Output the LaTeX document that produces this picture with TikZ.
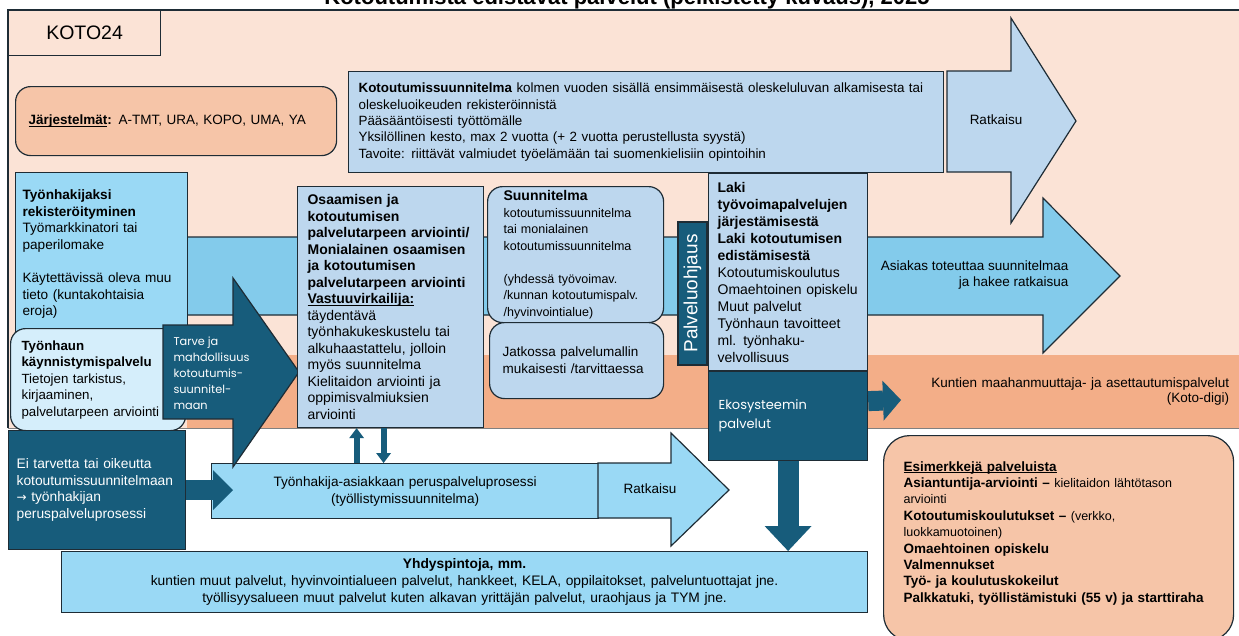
\documentclass[tikz,border=0pt]{standalone}
\usepackage{fontspec}
\setmainfont{Liberation Sans}
\newfontfamily\roundfont{Poppins}
\newfontfamily\arrowfont{DejaVu Sans}
\usepackage{tikz}
\usetikzlibrary{arrows.meta}
\definecolor{peach}{HTML}{FBE3D6}
\definecolor{salmon}{HTML}{F6C5A8}
\definecolor{orangeband}{HTML}{F3AE88}
\definecolor{paleblue}{HTML}{BDD7EE}
\definecolor{skyblue}{HTML}{9AD9F5}
\definecolor{bandblue}{HTML}{83CBEB}
\definecolor{iceblue}{HTML}{D5EEFB}
\definecolor{deepblue}{HTML}{175C7B}
\definecolor{edge}{HTML}{1E2C35}
\newcommand{\fsbig}{\fontsize{14}{16.6}\selectfont}
\newcommand{\fsmid}{\fontsize{13.5}{16.5}\selectfont}
\newcommand{\ulword}[1]{\underline{\smash{#1}}}
\tikzstyle{box} = [rectangle, draw=edge, line width=1.2pt, anchor=north west, align=left, inner ysep=0pt]
\tikzstyle{roundbox} = [box, rounded corners=15pt]
\tikzstyle{darkbox} = [box, fill=deepblue, text=white]
\tikzstyle{blockarrow} = [draw=edge, line width=1.2pt]
\tikzstyle{fatarrow} = [draw=deepblue, line width=20pt, -{Triangle[width=40pt,length=20pt,line width=0pt]}]
\tikzstyle{slimarrow} = [draw=deepblue, line width=6pt, -{Triangle[width=15pt,length=10pt,line width=0pt]}]

\begin{document}
\begin{tikzpicture}[x=1pt, y=-1pt]
\useasboundingbox (0,0) rectangle (1239,635);
\fill[white] (0,0) rectangle (1239,635);
\node (title) [anchor=base, font=\fontsize{22}{26}\selectfont\bfseries] at (627,4) {Kotoutumista edistävät palvelut (pelkistetty kuvaus), 2025};

\fill[peach] (8,10) rectangle (1250,428);
\draw[edge, line width=1.5pt] (8,428) -- (8,10) -- (1250,10);
\draw[gray, line width=1pt] (8,428) -- (1250,428);

\node (kuntien) [anchor=north west, fill=orangeband, minimum width=1053pt, minimum height=73pt, text width=1031pt, inner xsep=11pt, inner ysep=0pt, align=right, font=\fontsize{13.5}{15}\selectfont] at (187,355) {Kuntien maahanmuuttaja- ja asettautumispalvelut\\ (Koto-digi)};

\draw[blockarrow, fill=bandblue] (180,237) -- (1043,237) -- (1043,198) -- (1120,276) -- (1043,353) -- (1043,315) -- (180,315) -- cycle;
\node (asiakas) [anchor=east, align=right, font=\fontsize{13.5}{16.5}\selectfont] at (1072,275) {Asiakas toteuttaa suunnitelmaa\\ ja hakee ratkaisua};

\node (koto24) [box, fill=peach, minimum width=152pt, minimum height=45pt, align=center, font=\fontsize{19.5}{22}\selectfont] at (8,10) {KOTO24};
\node (jarj) [roundbox, fill=salmon, minimum width=321pt, minimum height=69pt, text width=295pt, inner xsep=13pt, font=\fsmid] at (15,86) {\ulword{\textbf{Järjestelmät}}\textbf{:} A-TMT, URA, KOPO, UMA, YA};

\node (kotosuun) [box, fill=paleblue, minimum width=595pt, minimum height=101pt, text width=575pt, inner xsep=10pt, font=\fontsize{13.4}{16.3}\selectfont] at (348,71) {\textbf{Kotoutumissuunnitelma} kolmen vuoden sisällä ensimmäisestä oleskeluluvan alkamisesta tai\\ oleskeluoikeuden rekisteröinnistä\\ Pääsääntöisesti työttömälle\\ Yksilöllinen kesto, max 2 vuotta (+ 2 vuotta perustellusta syystä)\\ Tavoite: riittävät valmiudet työelämään tai suomenkielisiin opintoihin};
\draw[blockarrow, fill=paleblue] (947,71) -- (1011,71) -- (1011,18) -- (1076,121) -- (1011,223) -- (1011,172) -- (947,172) -- cycle;
\node (ratkaisutop) [font=\fsmid] at (996,120) {Ratkaisu};

\node (rekister) [box, fill=skyblue, minimum width=172pt, minimum height=163pt, text width=158pt, inner xsep=7pt, font=\fontsize{13.6}{16.6}\selectfont] at (15,172) {\textbf{Työnhakijaksi}\\ \textbf{rekisteröityminen}\\ Työmarkkinatori tai\\ paperilomake\\[16.6pt] Käytettävissä oleva muu\\ tieto (kuntakohtaisia\\ eroja)};
\node (kaynnistys) [roundbox, fill=iceblue, minimum width=175pt, minimum height=102pt, text width=153pt, inner xsep=11pt, font=\fontsize{13.3}{16.5}\selectfont] at (10,328) {\textbf{Työnhaun}\\ \textbf{käynnistymispalvelu}\\ Tietojen tarkistus,\\ kirjaaminen,\\ palvelutarpeen arviointi};
\node (eitarve) [darkbox, minimum width=177pt, minimum height=119pt, text width=161pt, inner xsep=8pt, font=\fontsize{13.8}{16.5}\selectfont] at (8,430) {Ei tarvetta tai oikeutta\\ kotoutumissuunnitelmaan\\ {\arrowfont\fontsize{12}{16.5}\selectfont →} työnhakijan\\ peruspalveluprosessi};

\node (tyoasiakas) [box, fill=skyblue, minimum width=387pt, minimum height=55pt, text width=367pt, inner xsep=10pt, align=center, font=\fontsize{13.6}{17}\selectfont] at (211,463) {Työnhakija-asiakkaan peruspalveluprosessi\\ (työllistymissuunnitelma)};
\draw[blockarrow, fill=skyblue] (598,463) -- (671,463) -- (671,433) -- (729,490) -- (671,546) -- (671,518) -- (598,518) -- cycle;
\node (ratkaisulow) [font=\fsmid] at (650,489) {Ratkaisu};

\draw[blockarrow, fill=deepblue] (163,325) -- (233,325) -- (233,278) -- (299,372) -- (233,467) -- (233,419) -- (163,419) -- cycle;
\node (tarve) [anchor=west, align=left, text=white, font=\roundfont\fontsize{11.3}{16}\selectfont] at (170,373) {Tarve ja\\ mahdollisuus\\ kotoutumis-\\ suunnitel-\\ maan};

\node (osaaminen) [box, fill=paleblue, minimum width=186pt, minimum height=241pt, text width=166pt, inner xsep=10pt, font=\fontsize{14}{16.5}\selectfont] at (297,186) {\textbf{Osaamisen ja}\\ \textbf{kotoutumisen}\\ \textbf{palvelutarpeen arviointi/}\\ \textbf{Monialainen osaamisen}\\ \textbf{ja kotoutumisen}\\ \textbf{palvelutarpeen arviointi}\\ \ulword{\textbf{Vastuuvirkailija:}}\\ täydentävä\\ työnhakukeskustelu tai\\ alkuhaastattelu, jolloin\\ myös suunnitelma\\ Kielitaidon arviointi ja\\ oppimisvalmiuksien\\ arviointi};
\node (suunnitelma) [roundbox, fill=paleblue, minimum width=176pt, minimum height=136pt, text width=144pt, inner xsep=16pt, font=\fontsize{12.5}{16.5}\selectfont] at (487,186) {{\fontsize{14}{16.5}\selectfont\bfseries Suunnitelma}\\ kotoutumissuunnitelma\\ tai monialainen\\ kotoutumissuunnitelma\\[16.5pt] (yhdessä työvoimav.\\ /kunnan kotoutumispalv.\\ /hyvinvointialue)};
\node (jatkossa) [roundbox, fill=paleblue, minimum width=174pt, minimum height=76pt, text width=148pt, inner xsep=13pt, font=\fontsize{13.5}{17}\selectfont] at (489,322) {Jatkossa palvelumallin\\ mukaisesti /tarvittaessa};

\node (ohjaus) [darkbox, anchor=center, rotate=90, minimum width=143pt, minimum height=29pt, inner sep=0pt, align=center, font=\fontsize{19}{22}\selectfont] at (692.5,293.5) {Palveluohjaus};
\node (laki) [box, fill=paleblue, minimum width=159pt, minimum height=197pt, text width=141pt, inner xsep=9pt, font=\fontsize{14}{17}\selectfont] at (708,173) {\textbf{Laki}\\ \textbf{työvoimapalvelujen}\\ \textbf{järjestämisestä}\\ \textbf{Laki kotoutumisen}\\ \textbf{edistämisestä}\\ Kotoutumiskoulutus\\ Omaehtoinen opiskelu\\ Muut palvelut\\ Työnhaun tavoitteet\\ ml. työnhaku-\\ velvollisuus};
\node (ekosys) [darkbox, minimum width=159pt, minimum height=89pt, text width=139pt, inner xsep=10pt, font=\roundfont\fontsize{13}{19}\selectfont] at (708,371) {Ekosysteemin\\ palvelut};
\coordinate (kuntienin) at (901,400);

\node (yhdys) [box, fill=skyblue, minimum width=806pt, minimum height=61pt, text width=786pt, inner xsep=10pt, align=center, font=\fontsize{13.8}{17}\selectfont] at (61,551) {\textbf{Yhdyspintoja, mm.}\\ kuntien muut palvelut, hyvinvointialueen palvelut, hankkeet, KELA, oppilaitokset, palveluntuottajat jne.\\ työllisyysalueen muut palvelut kuten alkavan yrittäjän palvelut, uraohjaus ja TYM jne.};
\node (esimerkit) [roundbox, rounded corners=26pt, fill=salmon, minimum width=350pt, minimum height=205pt, text width=310pt, inner xsep=20pt, font=\fontsize{13.5}{16.4}\selectfont] at (883,435) {\ulword{\textbf{Esimerkkejä palveluista}}\\ \textbf{Asiantuntija-arviointi –} {\fontsize{12.5}{16.4}\selectfont kielitaidon lähtötason}\\ {\fontsize{12.5}{16.4}\selectfont arviointi}\\ \textbf{Kotoutumiskoulutukset –} {\fontsize{12.5}{16.4}\selectfont (verkko,}\\ {\fontsize{12.5}{16.4}\selectfont luokkamuotoinen)}\\ \textbf{Omaehtoinen opiskelu}\\ \textbf{Valmennukset}\\ \textbf{Työ- ja koulutuskokeilut}\\ \textbf{Palkkatuki, työllistämistuki (55 v) ja starttiraha}};

\draw[fatarrow] (eitarve.east) -- ([xshift=22pt]eitarve.east -| tyoasiakas.west);
\draw[fatarrow, line width=21pt, -{Triangle[width=47pt,length=25pt,line width=0pt]}] (ekosys.south) -- (ekosys.south |- yhdys.north);
\draw[fatarrow, -{Triangle[width=40pt,length=18pt,line width=0pt]}] ([yshift=15pt]ekosys.east) -- (kuntienin);
\draw[slimarrow] ([xshift=-34pt]osaaminen.south |- tyoasiakas.north) -- ([xshift=-34pt]osaaminen.south);
\draw[slimarrow] ([xshift=-7pt]osaaminen.south) -- ([xshift=-7pt]osaaminen.south |- tyoasiakas.north);
\end{tikzpicture}
\end{document}
